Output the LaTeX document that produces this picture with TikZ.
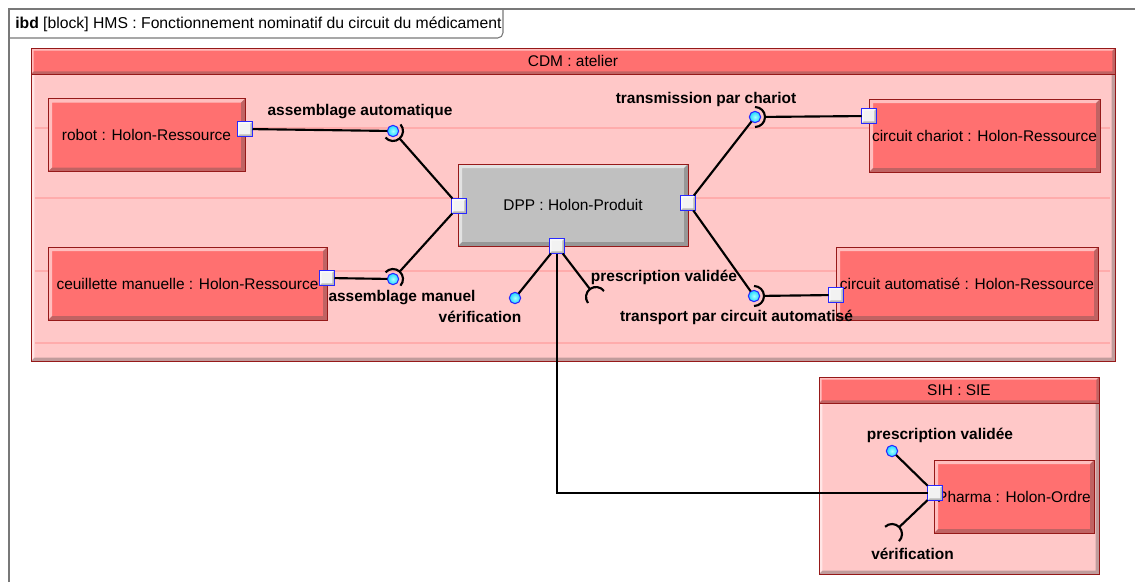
\documentclass[tikz,border=0pt]{standalone}
\usepackage{fontspec}
\setmainfont{Liberation Sans}
\usepackage{xcolor}
\usepackage{tikz}
\definecolor{hmsred}{RGB}{255,112,112}
\definecolor{hmspink}{RGB}{255,200,200}
\definecolor{hmsrule}{RGB}{255,172,172}
\definecolor{hmsedge}{RGB}{150,25,25}
\definecolor{hmsgrey}{RGB}{192,192,192}
\definecolor{hmsblue}{RGB}{40,40,255}
\definecolor{hmscyan}{RGB}{30,215,255}
\definecolor{hmsframe}{RGB}{120,120,120}
\tikzset{
  txt/.style={font=\fontsize{11.6}{13.5}\selectfont, inner sep=0pt},
  bevel/.style={path picture={
      \coordinate (bvsw) at (path picture bounding box.south west);
      \coordinate (bvne) at (path picture bounding box.north east);
      \coordinate (bvnw) at (path picture bounding box.north west);
      \coordinate (bvse) at (path picture bounding box.south east);
      \fill[white, opacity=.55] (bvsw) -- (bvnw) -- (bvne) -- ([shift={(-#1,-#1)}]bvne)
        -- ([shift={(#1,-#1)}]bvnw) -- ([shift={(#1,#1)}]bvsw) -- cycle;
      \fill[black!70, opacity=.35] (bvsw) -- (bvse) -- (bvne) -- ([shift={(-#1,-#1)}]bvne)
        -- ([shift={(-#1,#1)}]bvse) -- ([shift={(#1,#1)}]bvsw) -- cycle;
  }},
  bevel/.default=3pt,
  blk/.style={txt, rectangle, draw=hmsedge, fill=hmsred, bevel,
              minimum height=54.75pt, align=center},
  prod/.style={blk, fill=hmsgrey, minimum width=172.5pt, minimum height=61.5pt},
  cont/.style={rectangle, draw=hmsedge, fill=hmspink, bevel=2.5pt, inner sep=0pt},
  hdr/.style={txt, rectangle, draw=hmsedge, fill=hmsred, bevel=2pt, minimum height=19.5pt},
  port/.style={rectangle, draw=hmsblue, line width=1.1pt, fill=gray!10, bevel=1.6pt,
               minimum size=11.25pt, inner sep=0pt, outer sep=0pt},
  ball/.style={circle, draw=hmsblue, line width=.8pt, inner color=cyan!35!white,
               outer color=hmscyan, minimum size=8.5pt, inner sep=0pt, outer sep=0pt},
  sock/.style={circle, minimum size=15pt, inner sep=0pt, outer sep=0pt},
  link/.style={line width=1.6pt, color=black},
  sockline/.style={line width=1.6pt, color=black},
  rule/.style={color=hmsrule, line width=.8pt},
  frm/.style={color=hmsframe, line width=.8pt},
  lbl/.style={txt, font=\fontsize{11.6}{13.5}\selectfont\bfseries},
}
\newcommand{\sockarc}[2]{%
  \pgfmathtruncatemacro\sockfrom{#2-90}%
  \draw[sockline] (#1.\sockfrom) arc[start angle=\sockfrom, delta angle=180, radius=7.5pt];}

\begin{document}
\begin{tikzpicture}[x=0.75pt, y=-0.75pt]
\fill[white] (0,0) rectangle (1135,582);
\useasboundingbox (0,0) rectangle (1135,582);
\draw[frm] (9,582) -- (9,9) -- (1135,9);
\draw[frm, rounded corners=4pt] (9,38) -- (503,38) -- (503,9);
\node[txt, font=\fontsize{11.8}{13.5}\selectfont, anchor=west] (title) at (15,24) {\textbf{ibd} [block] HMS : Fonctionnement nominatif du circuit du médicament};

\node[cont, minimum width=813pt, minimum height=234.75pt] (cdm) at (573,204.5) {};
\node[hdr, minimum width=813pt, anchor=north] (cdmhdr) at (cdm.north) {CDM : atelier};
\foreach \y in {128,198,271,343}
  \draw[rule] (35,\y) -- (1110,\y);
\node[cont, minimum width=210pt, minimum height=147.75pt] (sih) at (959,475.5) {};
\node[hdr, minimum width=210pt, anchor=north] (sihhdr) at (sih.north) {SIH : SIE};

\node[blk, minimum width=147.75pt] (robot) at (146.5,135) {robot : Holon-Ressource};
\node[blk, minimum width=209.25pt] (ceuil) at (187.5,283.5) {ceuillette manuelle : Holon-Ressource};
\node[prod] (dpp) at (573,205) {DPP : Holon-Produit};
\node[blk, minimum width=173.25pt] (chariot) at (984.5,135.5) {circuit chariot : Holon-Ressource};
\node[blk, minimum width=196.5pt] (auto) at (967,283.5) {circuit automatisé : Holon-Ressource};
\node[blk, minimum width=120pt] (pharma) at (1014,496.5) {Pharma : Holon-Ordre};

\node[port] (pRobot) at (245,129) {};
\node[port] (pCeuil) at (327,278) {};
\node[port] (pDppW) at (459,206) {};
\node[port] (pDppE) at (688,203) {};
\node[port] (pDppS) at (557,246) {};
\node[port] (pChariot) at (869,116) {};
\node[port] (pAuto) at (836,295) {};
\node[port] (pPharma) at (935,493) {};

\node[ball] (aaBall) at (393,131) {};   \node[sock] (aaSock) at (393,131) {};
\node[ball] (amBall) at (393,279) {};   \node[sock] (amSock) at (393,279) {};
\node[ball] (tcBall) at (755,117) {};   \node[sock] (tcSock) at (755,117) {};
\node[ball] (trBall) at (754,296) {};   \node[sock] (trSock) at (754,296) {};
\node[ball] (veBall) at (515,298) {};
\node[sock] (pvSock) at (596,297) {};
\node[ball] (spBall) at (892,451) {};
\node[sock] (svSock) at (892,534) {};

\sockarc{aaSock}{-49}
\sockarc{amSock}{48}
\sockarc{tcSock}{0}
\sockarc{trSock}{0}
\sockarc{pvSock}{127}
\sockarc{svSock}{44}

\draw[link] (pRobot) -- (aaBall);
\draw[link] (pDppW) -- (aaSock);
\draw[link] (pCeuil) -- (amBall);
\draw[link] (pDppW) -- (amSock);
\draw[link] (pDppE) -- (tcBall);
\draw[link] (tcSock) -- (pChariot);
\draw[link] (pDppE) -- (trBall);
\draw[link] (trSock) -- (pAuto);
\draw[link] (pDppS) -- (veBall);
\draw[link] (pDppS) -- (pvSock);
\draw[link] (pDppS) |- (pPharma);
\draw[link] (pPharma) -- (spBall);
\draw[link] (pPharma) -- (svSock);

\node[lbl] (aaLbl) at (360,112) {assemblage automatique};
\node[lbl] (tcLbl) at (706,99) {transmission par chariot};
\node[lbl] (amLbl) at (402,298) {assemblage manuel};
\node[lbl] (veLbl) at (480,317) {vérification};
\node[lbl] (pvLbl) at (664,277) {prescription validée};
\node[lbl] (trLbl) at (736.5,317) {transport par circuit automatisé};
\node[lbl] (spLbl) at (940,435) {prescription validée};
\node[lbl] (svLbl) at (912.5,554) {vérification};
\end{tikzpicture}
\end{document}
